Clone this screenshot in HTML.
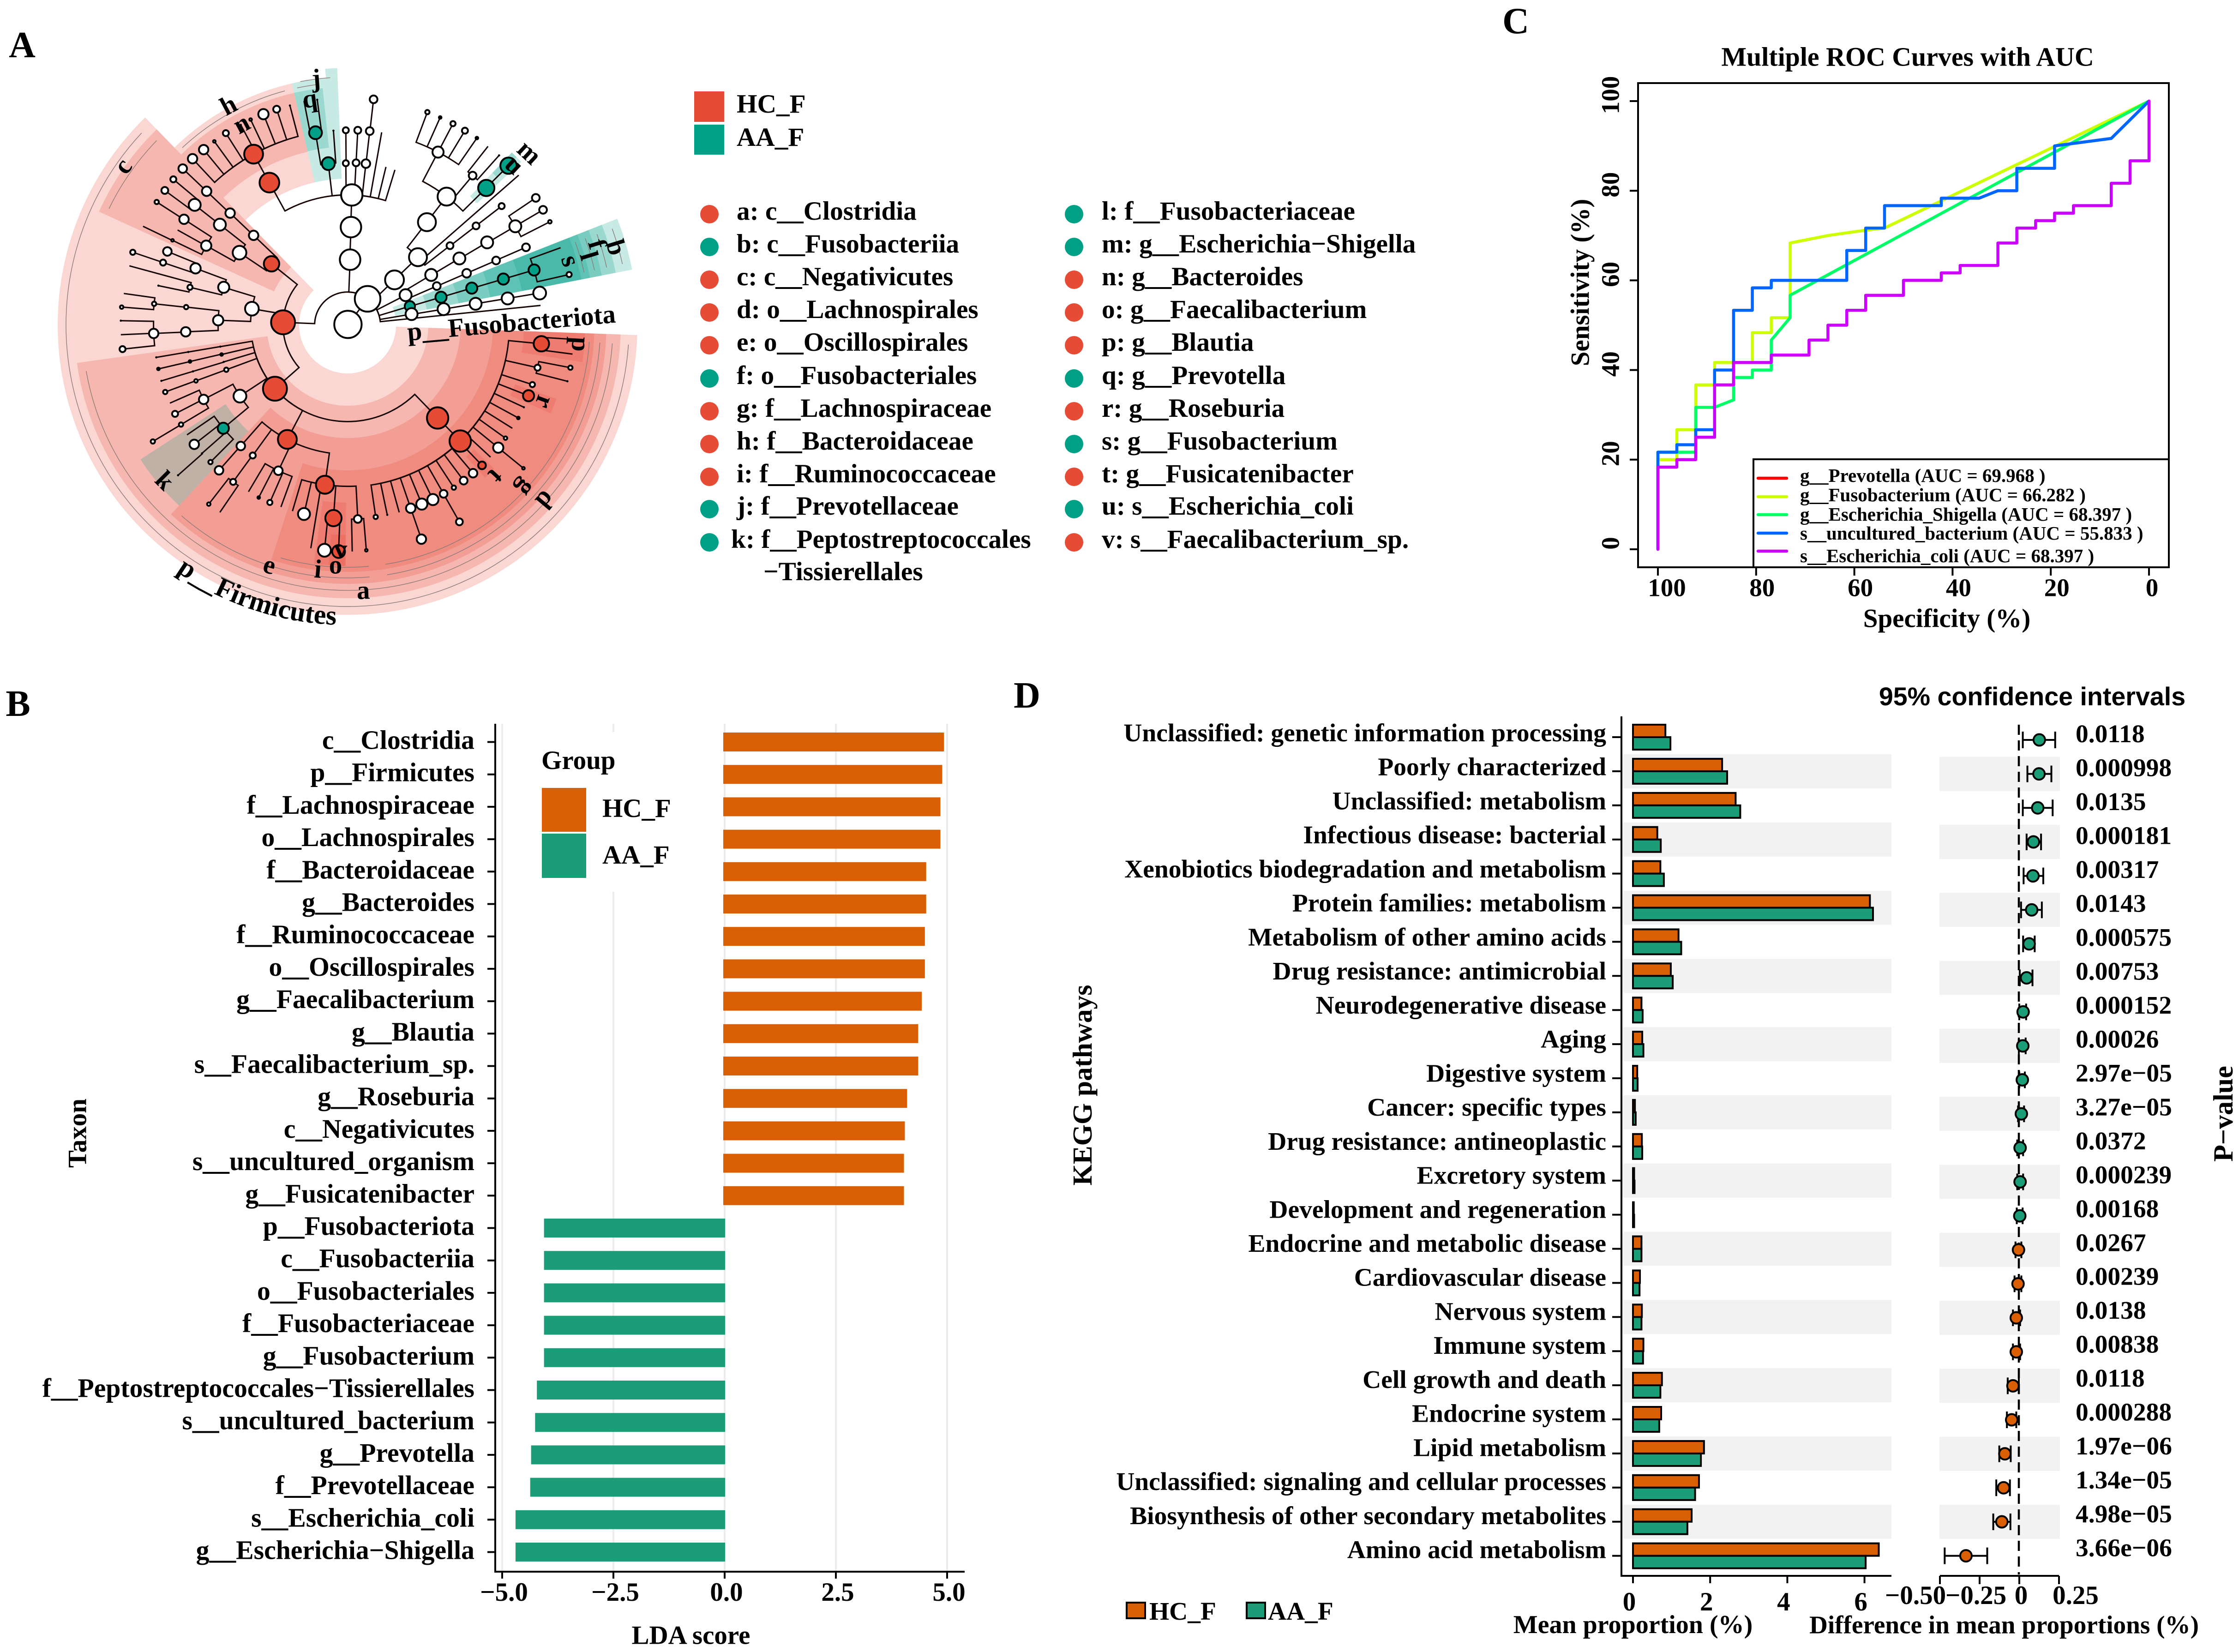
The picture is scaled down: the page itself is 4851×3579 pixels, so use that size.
<!DOCTYPE html>
<html lang="en">
<head>
<meta charset="utf-8">
<title>LEfSe, ROC and KEGG composite figure</title>
<style>
html,body{margin:0;padding:0;background:#fff;}
svg{display:block;}
text{font-family:"Liberation Serif","Noto Serif CJK SC",serif;font-weight:700;fill:#000;}
.t57{font-size:57px;}
.t573{font-size:57.3px;}
.t555{font-size:55.5px;}
.c{text-anchor:middle;dominant-baseline:central;}
.panel{font-size:80px;text-anchor:middle;dominant-baseline:central;}
</style>
</head>
<body>
<svg id="fig" xmlns="http://www.w3.org/2000/svg" width="4851" height="3579" viewBox="0 0 4851 3579">
<rect x="0" y="0" width="4851" height="3579" fill="#fff"/>
<text class="panel" x="48" y="98">A</text>
<text class="panel" x="39" y="1525">B</text>
<text class="panel" x="3284" y="46">C</text>
<text class="panel" x="2225" y="1507">D</text>

<g id="clado"></g>
<g id="clado-labels">
<text class="t57 c" transform="translate(266 360) rotate(-55)">c</text>
<text class="t57 c" transform="translate(495 228) rotate(-28)">h</text>
<text class="t57 c" transform="translate(523 268) rotate(-28)">n</text>
<text class="t57 c" transform="translate(671 214) rotate(-8)">q</text>
<text class="t57 c" transform="translate(685 170) rotate(-4)">j</text>
<text class="t57 c" transform="translate(1147 330) rotate(43)">m</text>
<text class="t57 c" transform="translate(1115 357) rotate(43)">u</text>
<text class="t57 c" transform="translate(1335 536) rotate(73)">b</text>
<text class="t57 c" transform="translate(1294 529) rotate(73)">f</text>
<text class="t57 c" transform="translate(1276 554) rotate(73)">l</text>
<text class="t57 c" transform="translate(1236 565) rotate(73)">s</text>
<text class="t57 c" transform="translate(1258 746) rotate(93)">p</text>
<text class="t57 c" transform="translate(1180 871) rotate(110)">r</text>
<text class="t57 c" transform="translate(1075 1032) rotate(133)">t</text>
<text class="t57 c" transform="translate(1140 1058) rotate(130)">g</text>
<text class="t57 c" transform="translate(1182 1083) rotate(130)">d</text>
<text class="t57 c" transform="translate(787 1279) rotate(-2)">a</text>
<text class="t57 c" x="738" y="1190">v</text>
<text class="t57 c" x="727" y="1224">o</text>
<text class="t57 c" transform="translate(689 1233) rotate(5)">i</text>
<text class="t57 c" transform="translate(584 1224) rotate(16)">e</text>
<text class="t57 c" transform="translate(357 1041) rotate(45)">k</text>
<text class="t57" transform="translate(884 738) rotate(-5)">p__Fusobacteriota</text>
<path id="firm-path" d="M 382 1238 A 650 650 0 0 0 790 1353" fill="none"/>
<text style="font-size:60px"><textPath href="#firm-path">p__Firmicutes</textPath></text>
</g>

<g id="clado-legend">
<rect x="1504" y="198" width="65" height="66" fill="#e64b35"/>
<rect x="1504" y="270" width="65" height="65" fill="#00a087"/>
<text class="t573" x="1596" y="244">HC_F</text>
<text class="t573" x="1596" y="316">AA_F</text>
<g>
<circle cx="1537" cy="464" r="20" fill="#e64b35"/><text class="t573" x="1596" y="476">a: c__Clostridia</text>
<circle cx="1537" cy="535" r="20" fill="#00a087"/><text class="t573" x="1596" y="547">b: c__Fusobacteriia</text>
<circle cx="1537" cy="606" r="20" fill="#e64b35"/><text class="t573" x="1596" y="618">c: c__Negativicutes</text>
<circle cx="1537" cy="677" r="20" fill="#e64b35"/><text class="t573" x="1596" y="689">d: o__Lachnospirales</text>
<circle cx="1537" cy="748" r="20" fill="#e64b35"/><text class="t573" x="1596" y="760">e: o__Oscillospirales</text>
<circle cx="1537" cy="820" r="20" fill="#00a087"/><text class="t573" x="1596" y="832">f: o__Fusobacteriales</text>
<circle cx="1537" cy="891" r="20" fill="#e64b35"/><text class="t573" x="1596" y="903">g: f__Lachnospiraceae</text>
<circle cx="1537" cy="962" r="20" fill="#e64b35"/><text class="t573" x="1596" y="974">h: f__Bacteroidaceae</text>
<circle cx="1537" cy="1033" r="20" fill="#e64b35"/><text class="t573" x="1596" y="1045">i: f__Ruminococcaceae</text>
<circle cx="1537" cy="1103" r="20" fill="#00a087"/><text class="t573" x="1596" y="1115">j: f__Prevotellaceae</text>
<circle cx="1537" cy="1175" r="20" fill="#00a087"/><text class="t573" x="1584" y="1187">k: f__Peptostreptococcales</text>
<text class="t573" x="1654" y="1257">−Tissierellales</text>
</g>
<g>
<circle cx="2327" cy="464" r="20" fill="#00a087"/><text class="t573" x="2387" y="476">l: f__Fusobacteriaceae</text>
<circle cx="2327" cy="535" r="20" fill="#00a087"/><text class="t573" x="2387" y="547">m: g__Escherichia−Shigella</text>
<circle cx="2327" cy="606" r="20" fill="#e64b35"/><text class="t573" x="2387" y="618">n: g__Bacteroides</text>
<circle cx="2327" cy="677" r="20" fill="#e64b35"/><text class="t573" x="2387" y="689">o: g__Faecalibacterium</text>
<circle cx="2327" cy="748" r="20" fill="#e64b35"/><text class="t573" x="2387" y="760">p: g__Blautia</text>
<circle cx="2327" cy="820" r="20" fill="#00a087"/><text class="t573" x="2387" y="832">q: g__Prevotella</text>
<circle cx="2327" cy="891" r="20" fill="#e64b35"/><text class="t573" x="2387" y="903">r: g__Roseburia</text>
<circle cx="2327" cy="962" r="20" fill="#00a087"/><text class="t573" x="2387" y="974">s: g__Fusobacterium</text>
<circle cx="2327" cy="1033" r="20" fill="#e64b35"/><text class="t573" x="2387" y="1045">t: g__Fusicatenibacter</text>
<circle cx="2327" cy="1103" r="20" fill="#00a087"/><text class="t573" x="2387" y="1115">u: s__Escherichia_coli</text>
<circle cx="2327" cy="1175" r="20" fill="#e64b35"/><text class="t573" x="2387" y="1187">v: s__Faecalibacterium_sp.</text>
</g>
</g>

<g id="roc">
<text class="c" x="4133" y="123" style="font-size:57.9px">Multiple ROC Curves with AUC</text>
<text class="t57 c" transform="translate(3424 612) rotate(-90)">Sensitivity (%)</text>
<text class="t57 c" x="4218" y="1340">Specificity (%)</text>
</g>

<g id="lda">
<text class="t57 c" transform="translate(168 2455) rotate(-90)">Taxon</text>
<text class="t57 c" x="1497" y="3543">LDA score</text>
</g>

<g id="kegg">
<text class="c" x="4403" y="1509" style="font-family:'Liberation Sans',sans-serif;font-size:55.6px">95% confidence intervals</text>
<text class="c" transform="translate(2345 2351) rotate(-90)" style="font-size:59.5px">KEGG pathways</text>
<text class="c" transform="translate(4817 2413) rotate(-90)" style="font-size:60px">P−value</text>
<text class="c" x="3538" y="3520" style="font-size:56px">Mean proportion (%)</text>
<text class="c" x="4342" y="3520" style="font-size:55.2px">Difference in mean proportions (%)</text>
<rect x="2441" y="3472" width="40" height="34" fill="#d95f02" stroke="#000" stroke-width="4"/>
<text class="t555" x="2490" y="3509">HC_F</text>
<rect x="2701" y="3472" width="40" height="34" fill="#1b9e77" stroke="#000" stroke-width="4"/>
<text class="t555" x="2747" y="3509">AA_F</text>
</g>
</svg>

<script>
/* ---------- Panel B: LDA data ---------- */
const ldaTaxa = ["c__Clostridia","p__Firmicutes","f__Lachnospiraceae","o__Lachnospirales","f__Bacteroidaceae","g__Bacteroides","f__Ruminococcaceae","o__Oscillospirales","g__Faecalibacterium","g__Blautia","s__Faecalibacterium_sp.","g__Roseburia","c__Negativicutes","s__uncultured_organism","g__Fusicatenibacter","p__Fusobacteriota","c__Fusobacteriia","o__Fusobacteriales","f__Fusobacteriaceae","g__Fusobacterium","f__Peptostreptococcales−Tissierellales","s__uncultured_bacterium","g__Prevotella","f__Prevotellaceae","s__Escherichia_coli","g__Escherichia−Shigella"];
const ldaScores = [4.93,4.89,4.85,4.85,4.53,4.53,4.50,4.50,4.43,4.35,4.35,4.10,4.05,4.03,4.03,-4.06,-4.06,-4.06,-4.06,-4.06,-4.22,-4.26,-4.35,-4.37,-4.70,-4.70];
const ldaTicks = [-5,-2.5,0,2.5,5];
const ldaTickLabels = ["−5.0","−2.5","0.0","2.5","5.0"];

/* ---------- Panel C: ROC data ---------- */
const rocSeriesNames = ["g__Prevotella (AUC = 69.968 )","g__Fusobacterium (AUC = 66.282 )","g__Escherichia_Shigella (AUC = 68.397 )","s__uncultured_bacterium (AUC = 55.833 )","s__Escherichia_coli (AUC = 68.397 )"];
const rocFusSpec = [100,100,96.15,96.15,92.3,92.3,88.46,88.46,80.77,80.77,76.92,76.92,73.08,73.08,65.4,57.7,53.85,0];
const rocFusSens = [0,20,20,26.67,26.67,36.67,36.67,41.67,41.67,48.33,48.33,51.67,51.67,68.33,70,71.2,71.67,100];
const rocEscSpec = [100,100,92.3,92.3,88.46,84.6,84.6,80.77,80.77,76.92,76.92,73.08,73.08,0];
const rocEscSens = [0,21.67,21.67,31.67,31.67,33.33,38.33,38.33,40,40,46.67,51.67,56.67,100];
const rocUncSpec = [100,100,96.15,96.15,92.3,92.3,88.46,88.46,84.6,84.6,80.77,80.77,76.92,76.92,61.54,61.54,57.69,57.69,53.85,53.85,42.3,42.3,34.6,30.77,26.92,26.92,19.23,19.23,7.69,0];
const rocUncSens = [0,21.67,21.67,23.33,23.33,26.67,26.67,40,40,53.33,53.33,58.33,58.33,60,60,66.67,66.67,71.67,71.67,76.67,76.67,78.33,78.33,80,80,85,85,90,91.67,100];
const rocColiSpec = [100,100,96.15,96.15,92.3,92.3,88.46,88.46,84.6,84.6,76.92,76.92,69.23,69.23,65.38,65.38,61.54,61.54,57.69,57.69,50,50,42.3,42.3,38.46,38.46,30.77,30.77,26.92,26.92,23.08,23.08,19.23,19.23,15.38,15.38,7.69,7.69,3.85,3.85,0,0];
const rocColiSens = [0,18.33,18.33,20,20,25,25,36.67,36.67,41.67,41.67,43.33,43.33,46.67,46.67,50,50,53.33,53.33,56.67,56.67,60,60,61.67,61.67,63.33,63.33,68.33,68.33,71.67,71.67,73.33,73.33,75,75,76.67,76.67,81.67,81.67,86.67,86.67,100];
const rocTicks = [100,80,60,40,20,0];

/* ---------- Panel D: KEGG data ---------- */
const keggPathways = ["Unclassified: genetic information processing","Poorly characterized","Unclassified: metabolism","Infectious disease: bacterial","Xenobiotics biodegradation and metabolism","Protein families: metabolism","Metabolism of other amino acids","Drug resistance: antimicrobial","Neurodegenerative disease","Aging","Digestive system","Cancer: specific types","Drug resistance: antineoplastic","Excretory system","Development and regeneration","Endocrine and metabolic disease","Cardiovascular disease","Nervous system","Immune system","Cell growth and death","Endocrine system","Lipid metabolism","Unclassified: signaling and cellular processes","Biosynthesis of other secondary metabolites","Amino acid metabolism"];
const hcMean = [0.84,2.31,2.66,0.63,0.71,6.14,1.18,0.98,0.22,0.24,0.11,0.05,0.23,0.03,0.02,0.22,0.18,0.23,0.27,0.75,0.73,1.84,1.71,1.52,6.37];
const aaMean = [0.97,2.44,2.78,0.72,0.80,6.22,1.25,1.03,0.25,0.27,0.12,0.07,0.24,0.04,0.03,0.22,0.17,0.22,0.26,0.71,0.68,1.76,1.61,1.41,6.03];
const diffMean = [0.126,0.124,0.116,0.089,0.086,0.078,0.062,0.046,0.024,0.022,0.019,0.013,0.005,0.005,0.003,-0.005,-0.008,-0.019,-0.019,-0.04,-0.048,-0.091,-0.099,-0.11,-0.336];
const ciLow = [0.022,0.051,0.022,0.046,0.027,0.011,0.024,0.003,0,-0.003,0,-0.008,-0.013,-0.013,-0.016,-0.024,-0.03,-0.04,-0.04,-0.073,-0.078,-0.126,-0.145,-0.164,-0.47];
const ciHigh = [0.226,0.202,0.21,0.137,0.151,0.142,0.097,0.083,0.043,0.04,0.035,0.03,0.024,0.024,0.021,0.013,0.013,0.005,0.005,-0.003,-0.019,-0.054,-0.059,-0.056,-0.202];
const pValueLabels = ["0.0118","0.000998","0.0135","0.000181","0.00317","0.0143","0.000575","0.00753","0.000152","0.00026","2.97e−05","3.27e−05","0.0372","0.000239","0.00168","0.0267","0.00239","0.0138","0.00838","0.0118","0.000288","1.97e−06","1.34e−05","4.98e−05","3.66e−06"];
const meanTicks = [0,2,4,6];
const meanTickLabels = ["0","2","4","6"];
const diffTicks = [-0.5,-0.25,0,0.25];
const diffTickLabels = ["−0.50","−0.25","0","0.25"];

/* ---------- Panel A: cladogram tree (id, parent, x, y, node radius, fill) ---------- */
const treeNodes = [
["R0","R1",815,787,32,"w"],["R1",null,861,725,30,"w"],
["T1","R1",820,630,24,"w"],["T2","T1",822,551,24,"w"],["T3","T2",824,473,25,"w"],
["Br1","T3",631,443,23,"r"],["Br2","Br1",594,374,22,"r"],
["b1","Br2",451,385,11,"w"],["b2","Br2",477,363,11,"w"],["b3","Br2",502,343,3,"w"],["b4","Br2",529,323,7,"w"],["b5","Br2",564,303,2,"k"],["b6","Br2",587,290,3,"w"],["b7","Br2",617,277,12,"w"],["b8","Br2",648,265,8,"w"],["b9","Br2",679,256,2,"k"],
["Pv1","T3",769,397,15,"t"],["Pv2","Pv1",739,322,15,"t"],["Pv3","Pv1",781,317,2,"k"],["Pv4","Pv2",712,245,0,"w"],["Pv5","Pv2",743,242,2,"k"],
["t1","T3",810,396,7,"w"],["t2","T3",834,395,8,"w"],["t3","T3",857,397,10,"w"],["t4","t1",810,316,7,"w"],["t5","t2",838,316,8,"w"],["t6","t3",866,318,9,"w"],["t7","t6",875,241,9,"w"],["t8","T3",894,321,0,"w"],["t9","T3",904,405,0,"w"],["t10","T3",925,412,0,"w"],
["P1","R1",924,679,22,"w"],["P2","P1",979,624,21,"w"],["P3","P2",1000,539,21,"w"],["P4","P3",1046,477,21,"w"],
["P5","P4",1026,369,13,"w"],["p51","P5",1001,272,5,"w"],["p52","P5",1031,285,3,"k"],["p53","P5",1061,300,6,"w"],["p54","P5",1089,317,7,"w"],["p55","P5",1117,335,3,"k"],
["P6","P4",1107,426,9,"w"],["p61","P6",1143,355,0,"w"],["p62","P6",1169,377,2,"k"],
["Es1","P4",1139,456,19,"t"],["Es2","Es1",1191,402,19,"t"],
["p21","P2",1054,596,8,"w"],["p22","p21",1115,548,8,"w"],["p23","p22",1175,500,7,"w"],["p24","P2",1215,425,0,"w"],
["q1","R1",950,716,14,"w"],["q2","q1",1010,667,14,"w"],["q3","q2",1076,627,14,"w"],["q4","q3",1141,588,14,"w"],["q5","q4",1207,549,14,"w"],["q6","q5",1255,480,9,"w"],["q7","q5",1272,509,9,"w"],["q8","q5",1288,538,4,"w"],
["w1","q1",1023,694,9,"w"],["w2","w1",1093,663,10,"w"],["w3","w2",1162,632,9,"w"],["w4","w3",1232,600,9,"w"],
["Fu1","R1",960,743,12,"t"],["Fu2","Fu1",1033,721,13,"t"],["Fu3","Fu2",1105,699,13,"t"],["Fu4","Fu3",1179,677,13,"t"],["Fu5","Fu4",1251,655,13,"t"],["Fu6","Fu5",1333,666,6,"w"],["Fu7","Fu5",1313,601,0,"w"],
["x1","R1",964,762,14,"w"],["x2","x1",1039,750,14,"w"],["x3","x2",1114,737,14,"w"],["x4","x3",1189,724,14,"w"],["x5","x4",1264,711,15,"w"],["x6","R1",1266,741,0,"w"],
["F0","R1",663,782,28,"r"],
["C1","F0",636,640,18,"r"],
["a1","C1",594,571,11,"w"],["a2","a1",539,517,11,"w"],["a3","a2",484,464,11,"w"],["a4","a3",428,409,10,"w"],
["B1","C1",561,613,16,"w"],["B2","B1",515,545,14,"w"],["B3","B2",456,497,14,"w"],["B4","B3",406,435,7,"w"],["B5","B3",386,462,8,"w"],
["B6","B1",483,596,12,"w"],["B7","B6",431,532,11,"w"],["B8","B7",367,490,5,"w"],["B9","B6",416,558,0,"w"],["B10","B6",404,583,3,"w"],["B11","B10",335,549,0,"w"],
["M1","F0",590,749,16,"w"],["M2","M1",524,697,13,"w"],["M3","M2",458,651,12,"w"],["M4","M3",392,610,10,"w"],["M5","M3",382,637,7,"w"],["M6","M5",311,612,6,"w"],
["M7","M2",445,697,6,"w"],["M8","M7",371,693,2,"k"],["M9","M7",303,645,0,"w"],
["M10","M1",511,777,12,"w"],["M11","M10",436,745,5,"w"],["M12","M11",361,737,5,"w"],["M13","M12",285,745,4,"w"],["M14","M12",290,712,0,"w"],
["M15","M10",435,805,11,"w"],["M16","M15",360,809,11,"w"],["M17","M16",283,778,2,"k"],["M18","M16",283,812,0,"w"],["M19","M16",287,847,7,"w"],
["L0","F0",644,943,28,"r"],
["r1a","L0",516,841,2,"k"],["r1b","r1a",441,854,2,"k"],["r1c","r1b",366,867,2,"k"],
["r2a","L0",519,860,3,"k"],["r2b","r2a",445,877,3,"k"],["r2c","r2b",371,895,3,"k"],
["r3a","L0",524,878,2,"k"],["r3b","r3a",452,901,2,"k"],["r3c","r3b",378,924,2,"k"],
["r4a","L0",530,897,5,"w"],["r4b","r4a",459,924,4,"w"],["r4c","r4b",387,951,5,"w"],
["L1","L0",562,961,15,"w"],["L2","L1",477,969,11,"w"],["L3","L2",398,978,0,"w"],["L4","L2",410,1004,7,"w"],["L5","L2",424,1030,5,"w"],["L6","L5",358,1071,5,"w"],
["Kg","L1",523,1039,13,"t"],["K1","Kg",455,1078,11,"w"],["K2","Kg",438,1055,0,"w"],["K3","Kg",473,1100,2,"k"],["K4","K3",417,1153,2,"k"],["K5","Kg",493,1121,5,"w"],
["Os","L0",673,1066,22,"r"],
["o1","Os",564,1082,10,"w"],["o2","o1",513,1141,10,"w"],["o3","Os",592,1105,7,"w"],["o4","o3",546,1169,7,"w"],["o5","o4",489,1223,4,"w"],["o6","o4",515,1243,0,"w"],
["o7","Os",652,1142,10,"w"],["o8","o7",582,1193,0,"w"],["o9","o7",606,1207,3,"k"],["o10","o7",632,1219,6,"w"],["o11","o7",658,1230,0,"w"],
["Ru","Os",761,1176,21,"r"],["u1","Ru",685,1240,0,"w"],["u2","Ru",712,1247,14,"w"],["u3","Ru",728,1330,0,"w"],
["Fa","Ru",781,1257,19,"r"],["Fa1","Fa",760,1335,15,"w"],["Fa2","Fa",793,1338,15,"r"],
["u4","Ru",838,1259,9,"w"],["u5","u4",825,1338,0,"w"],["u6","u4",858,1335,3,"w"],
["Lc","L0",1025,1014,25,"r"],["Lf","Lc",1078,1070,25,"r"],
["f1","Lf",880,1254,5,"w"],["f2","Lf",907,1249,2,"k"],["f3","Lf",935,1243,0,"w"],["f4","Lf",962,1233,11,"w"],["f5","f4",987,1308,11,"w"],["f6","Lf",988,1223,13,"w"],["f7","Lf",1014,1212,13,"w"],["f8","Lf",1039,1198,9,"w"],["f9","f8",1076,1266,8,"w"],["f10","Lf",1063,1183,5,"w"],["f11","Lf",1086,1166,9,"w"],["f12","Lf",1108,1148,10,"w"],["Fs","Lf",1129,1129,9,"r"],["f13","Lf",1149,1109,0,"w"],["f14","Lf",1167,1086,12,"w"],["f15","f14",1226,1136,3,"w"],["f16","Lf",1184,1063,4,"w"],["f17","Lf",1200,1039,0,"w"],["f18","Lf",1214,1014,3,"k"],["f19","Lf",1227,988,2,"k"],["Ro","Lf",1238,960,13,"r"],["f20","Lf",1247,933,6,"w"],["f21","Lf",1259,892,7,"w"],["f22","f21",1336,892,5,"w"],["f23","f21",1329,925,2,"k"],["Bl","Lf",1268,834,18,"r"],["f24","Bl",1339,823,0,"w"],["f25","Bl",1341,859,0,"w"]
];
/* clade shading wedges: start angle, end angle, inner radius, outer radius, group */
const cladeWedges = [
[2,225.7,105,628,"hc"],[2,172,175,592,"hc"],[204.5,225.7,175,592,"hc"],
[2,83,245,561,"hc"],[83,133,245,561,"hc"],
[2,83,315,535,"hc"],[83,108,315,535,"hc"],[133,147,315,535,"aa"],
[90.5,98,385,522,"hc"],[90.5,94.5,455,522,"hc"],[2,9,382,515,"hc"],[19.5,23.5,385,480,"hc"],[44.5,48,384,445,"hc"],
[225.7,257,317,537,"hc"],[225.7,257,385,516,"hc"],
[257,267.7,317,537,"aa"],[265,267.7,537,557,"aa"],[257,264,386,516,"aa"],
[-21.5,-11,105,628,"aa"],[-21.5,-11,175,592,"aa"],[-21.5,-11,245,561,"aa"],[-21.5,-11,315,535,"aa"],[-21.5,-11,385,516,"aa"],
[-46.4,-43.2,385,516,"aa"],[-46.4,-44.8,455,516,"aa"]
];
/* thin guide arcs: radius, start angle, end angle */
const cladeGuides = [[610,4,223],[575,4,170],[575,206,224],[548,4,81],[548,85,131],[525,4,81],[525,85,106],[525,227,255],[610,-20,-12.5],[575,-20,-12.5],[548,-20,-12.5],[525,-20,-12.5],[525,258,263],[537,259,266]];

/* ---------- helpers ---------- */
const SVGNS = "http://www.w3.org/2000/svg";
function mk(tag, attrs, parent, txt) {
  const e = document.createElementNS(SVGNS, tag);
  for (const k in attrs) e.setAttribute(k, attrs[k]);
  if (txt !== undefined) e.textContent = txt;
  parent.appendChild(e);
  return e;
}
function slug(s) { return String(s).toLowerCase().replace(/[^a-z0-9]+/g, "-").replace(/^-|-$/g, ""); }

/* ---------- Panel A ---------- */
(function () {
  const root = document.getElementById("clado");
  const CX = 753, CY = 704;
  const rad = a => a * Math.PI / 180;
  const pt = (a, r) => [CX + r * Math.cos(rad(a)), CY + r * Math.sin(rad(a))];
  const fills = { hc: "#e64b35", aa: "#00a087" };
  const nodeFills = { w: "#ffffff", r: "#e64b35", t: "#00a087", k: "#000000" };
  const gx = x => x * 0.925, gy = y => y * 0.893;

  cladeWedges.forEach((w, i) => {
    const p1 = pt(w[0], w[3]), p2 = pt(w[1], w[3]), p3 = pt(w[1], w[2]), p4 = pt(w[0], w[2]);
    const lg = (w[1] - w[0]) > 180 ? 1 : 0;
    const d = `M${p1[0]} ${p1[1]}A${w[3]} ${w[3]} 0 ${lg} 1 ${p2[0]} ${p2[1]}L${p3[0]} ${p3[1]}A${w[2]} ${w[2]} 0 ${lg} 0 ${p4[0]} ${p4[1]}Z`;
    const el = mk("path", { d: d, fill: fills[w[4]], "fill-opacity": 0.22 }, root);
    
    
  });
  cladeGuides.forEach((g, i) => {
    const a = pt(g[1], g[0]), b = pt(g[2], g[0]);
    const lg = (g[2] - g[1]) > 180 ? 1 : 0;
    const el = mk("path", { d: `M${a[0]} ${a[1]}A${g[0]} ${g[0]} 0 ${lg} 1 ${b[0]} ${b[1]}`, fill: "none", stroke: "#8a7a76", "stroke-width": 1.4 }, root);
    
    
  });
  const byId = {};
  treeNodes.forEach(n => {
    const x = gx(n[2]), y = gy(n[3]);
    const dx = x - CX, dy = y - CY;
    byId[n[0]] = { x, y, r: Math.hypot(dx, dy), a: Math.atan2(dy, dx) * 180 / Math.PI };
  });
  treeNodes.forEach(n => {
    if (!n[1]) return;
    const c = byId[n[0]], p = byId[n[1]];
    let d;
    if (c.r < p.r) {
      d = `M${c.x} ${c.y}L${p.x} ${p.y}`;
    } else {
      const j = pt(c.a, p.r);
      let delta = p.a - c.a;
      while (delta > 180) delta -= 360;
      while (delta < -180) delta += 360;
      const sw = delta > 0 ? 1 : 0;
      d = `M${c.x} ${c.y}L${j[0]} ${j[1]}A${p.r} ${p.r} 0 ${Math.abs(delta) > 180 ? 1 : 0} ${sw} ${p.x} ${p.y}`;
    }
    const el = mk("path", { d: d, fill: "none", stroke: "#160505", "stroke-width": 3 }, root);
    
    
  });
  treeNodes.forEach(n => {
    if (n[4] <= 0) return;
    const c = byId[n[0]];
    const el = mk("circle", { cx: c.x, cy: c.y, r: n[4] * 0.925, fill: nodeFills[n[5]], stroke: "#000", "stroke-width": n[4] < 3 ? 1 : 4 }, root);
    
    
  });
})();

/* ---------- Panel C ---------- */
(function () {
  const g = document.getElementById("roc");
  const sx = v => 4656 - v * 10.64;
  const sy = v => 1190 - v * 9.71;
  const series = [
    { name: "fusobacterium", color: "#ccff00", spec: rocFusSpec, sens: rocFusSens },
    { name: "escherichia-shigella", color: "#00ff66", spec: rocEscSpec, sens: rocEscSens },
    { name: "uncultured-bacterium", color: "#0066ff", spec: rocUncSpec, sens: rocUncSens },
    { name: "escherichia-coli", color: "#cc00ff", spec: rocColiSpec, sens: rocColiSens }
  ];
  series.forEach(s => {
    const pts = s.spec.map((v, i) => sx(v).toFixed(1) + "," + sy(s.sens[i]).toFixed(1)).join(" ");
    const line = mk("polyline", { points: pts, fill: "none", stroke: s.color, "stroke-width": 6.5, "stroke-linejoin": "round", "stroke-linecap": "round" }, g);
    
    
  });
  const box = mk("rect", { x: 3549, y: 180, width: 1150, height: 1049, fill: "none", stroke: "#000", "stroke-width": 4 }, g);
  
  
  rocTicks.forEach(v => {
    const tx = mk("line", { x1: sx(v), x2: sx(v), y1: 1229, y2: 1247, stroke: "#000", "stroke-width": 4 }, g);
    
    
    const s = String(v);
    const lx = mk("text", { class: "c", x: sx(v) + 6.5 * s.length, y: 1273, "font-size": 55 }, g, s);
    
    
    const ty = mk("line", { x1: 3531, x2: 3549, y1: sy(v), y2: sy(v), stroke: "#000", "stroke-width": 4 }, g);
    
    
    const ly = mk("text", { class: "c", transform: `translate(3489 ${sy(v) - 13}) rotate(-90)`, "font-size": 55 }, g, s);
    
    
  });
  const lb = mk("rect", { x: 3799, y: 995, width: 900, height: 234, fill: "#fff", stroke: "#000", "stroke-width": 4 }, g);
  
  
  const legendColors = ["#ff0000", "#ccff00", "#00ff66", "#0066ff", "#cc00ff"];
  const lineY = [1036, 1076, 1115, 1155, 1194];
  const textY = [1044, 1086, 1128, 1169, 1218];
  rocSeriesNames.forEach((t, i) => {
    const l = mk("line", { x1: 3809, x2: 3871, y1: lineY[i], y2: lineY[i], stroke: legendColors[i], "stroke-width": 6.5, "stroke-linecap": "round" }, g);
    
    
    const tx = mk("text", { x: 3900, y: textY[i], "font-size": 41 }, g, t);
    
    
  });
})();

/* ---------- Panel B ---------- */
(function () {
  const g = document.getElementById("lda");
  const sx = v => 1570 + v * 96.4;
  const rowY = i => 1607.5 + i * 70.2;
  ldaTicks.forEach(v => {
    const gl = mk("line", { x1: sx(v), x2: sx(v), y1: 1568, y2: 3405, stroke: "#ececec", "stroke-width": 4 }, g);
    
    
  });
  const legBg = mk("rect", { x: 1145, y: 1586, width: 350, height: 346, fill: "#fff" }, g);
  
  
  ldaScores.forEach((v, i) => {
    const y = rowY(i);
    const x0 = v >= 0 ? sx(0) - 3 : sx(v);
    const w = v >= 0 ? sx(v) - sx(0) + 3 : sx(0) - sx(v) + 1;
    const bar = mk("rect", { x: x0, y: y - 20.5, width: w, height: 41, fill: v >= 0 ? "#d95f02" : "#1b9e77" }, g);
    
    
    const t = mk("line", { x1: 1056, x2: 1073, y1: y, y2: y, stroke: "#000", "stroke-width": 4 }, g);
    
    
    const lab = mk("text", { x: 1028, y: y + 15, "text-anchor": "end", "font-size": 57.7 }, g, ldaTaxa[i]);
    
    
  });
  const yAxis = mk("line", { x1: 1073, x2: 1073, y1: 1568, y2: 3407, stroke: "#000", "stroke-width": 4 }, g);
  
  
  const xAxis = mk("line", { x1: 1071, x2: 2090, y1: 3405, y2: 3405, stroke: "#000", "stroke-width": 4 }, g);
  
  
  ldaTicks.forEach((v, i) => {
    const t = mk("line", { x1: sx(v), x2: sx(v), y1: 3405, y2: 3420, stroke: "#000", "stroke-width": 4 }, g);
    
    
    const l = mk("text", { class: "t57", x: sx(v) + 4, y: 3468, "text-anchor": "middle" }, g, ldaTickLabels[i]);
    
    
  });
  const title = mk("text", { class: "t57", x: 1173, y: 1666 }, g, "Group");
  
  
  const s1 = mk("rect", { x: 1174, y: 1707, width: 96, height: 95, fill: "#d95f02" }, g);
  
  
  const s2 = mk("rect", { x: 1174, y: 1806, width: 96, height: 96, fill: "#1b9e77" }, g);
  
  
  const t1 = mk("text", { class: "t57", x: 1305, y: 1770 }, g, "HC_F");
  
  
  const t2 = mk("text", { class: "t57", x: 1305, y: 1871 }, g, "AA_F");
  
  
})();

/* ---------- Panel D ---------- */
(function () {
  const g = document.getElementById("kegg");
  const mx = v => 3538 + v * 83.6;
  const dx = v => 4375 + v * 344;
  const rowY = i => 1597 + i * 73.9;
  const shift = i => 6 * (1 - i / 24);
  keggPathways.forEach((name, i) => {
    const y = rowY(i);
    if (i % 2 === 1) {
      const st = mk("rect", { x: 3516, y: y - 37, width: 582, height: 74, fill: "#f2f2f2" }, g);
      
      
      const st2 = mk("rect", { x: 4202, y: y - 37 + shift(i), width: 261, height: 74, fill: "#f2f2f2" }, g);
      
      
    }
  });
  const dash = mk("line", { x1: dx(0) - 1, x2: dx(0) - 1, y1: 1570, y2: 3411, stroke: "#000", "stroke-width": 4.5, "stroke-dasharray": "22 12" }, g);
  
  
  keggPathways.forEach((name, i) => {
    const y = rowY(i);
    const lab = mk("text", { class: "t555", x: 3480, y: y + 9 - 4 * i / 24, "text-anchor": "end" }, g, name);
    
    
    const tk = mk("line", { x1: 3493, x2: 3513, y1: y, y2: y, stroke: "#000", "stroke-width": 4 }, g);
    
    
    const b1 = mk("rect", { x: mx(0), y: y - 27, width: mx(hcMean[i]) - mx(0), height: 27, fill: "#d95f02", stroke: "#000", "stroke-width": 4 }, g);
    
    
    const b2 = mk("rect", { x: mx(0), y: y, width: mx(aaMean[i]) - mx(0), height: 27, fill: "#1b9e77", stroke: "#000", "stroke-width": 4 }, g);
    
    
    const py = y + shift(i);
    const ci = mk("path", { d: `M${dx(ciLow[i])} ${py - 18}V${py + 18}M${dx(ciHigh[i])} ${py - 18}V${py + 18}M${dx(ciLow[i])} ${py}H${dx(ciHigh[i])}`, fill: "none", stroke: "#000", "stroke-width": 4 }, g);
    
    
    const pt = mk("circle", { cx: dx(diffMean[i]), cy: py, r: 12.5, fill: diffMean[i] >= 0 ? "#1b9e77" : "#d95f02", stroke: "#000", "stroke-width": 4 }, g);
    
    
    const pv = mk("text", { class: "t555", x: 4497, y: y + 11 - 10 * i / 24 }, g, pValueLabels[i]);
    
    
  });
  const la = mk("path", { d: "M3513 1552V3414H4098", fill: "none", stroke: "#000", "stroke-width": 4 }, g);
  
  
  const ra = mk("line", { x1: 4203, x2: 4461, y1: 3414, y2: 3414, stroke: "#000", "stroke-width": 4 }, g);
  
  
  meanTicks.forEach((v, i) => {
    const t = mk("line", { x1: mx(v), x2: mx(v), y1: 3414, y2: 3430, stroke: "#000", "stroke-width": 4 }, g);
    
    
    const l = mk("text", { class: "t57", x: mx(v) - 8, y: 3489, "text-anchor": "middle" }, g, meanTickLabels[i]);
    
    
  });
  const nudge = v => v < -0.3 ? -53 : v < 0 ? -8 : v > 0 ? 36 : 4;
  diffTicks.forEach((v, i) => {
    const t = mk("line", { x1: dx(v), x2: dx(v), y1: 3414, y2: 3432, stroke: "#000", "stroke-width": 4 }, g);
    
    
    const l = mk("text", { class: "t57", x: dx(v) + nudge(v), y: 3475, "text-anchor": "middle" }, g, diffTickLabels[i]);
    
    
  });
})();
</script>
</body>
</html>
